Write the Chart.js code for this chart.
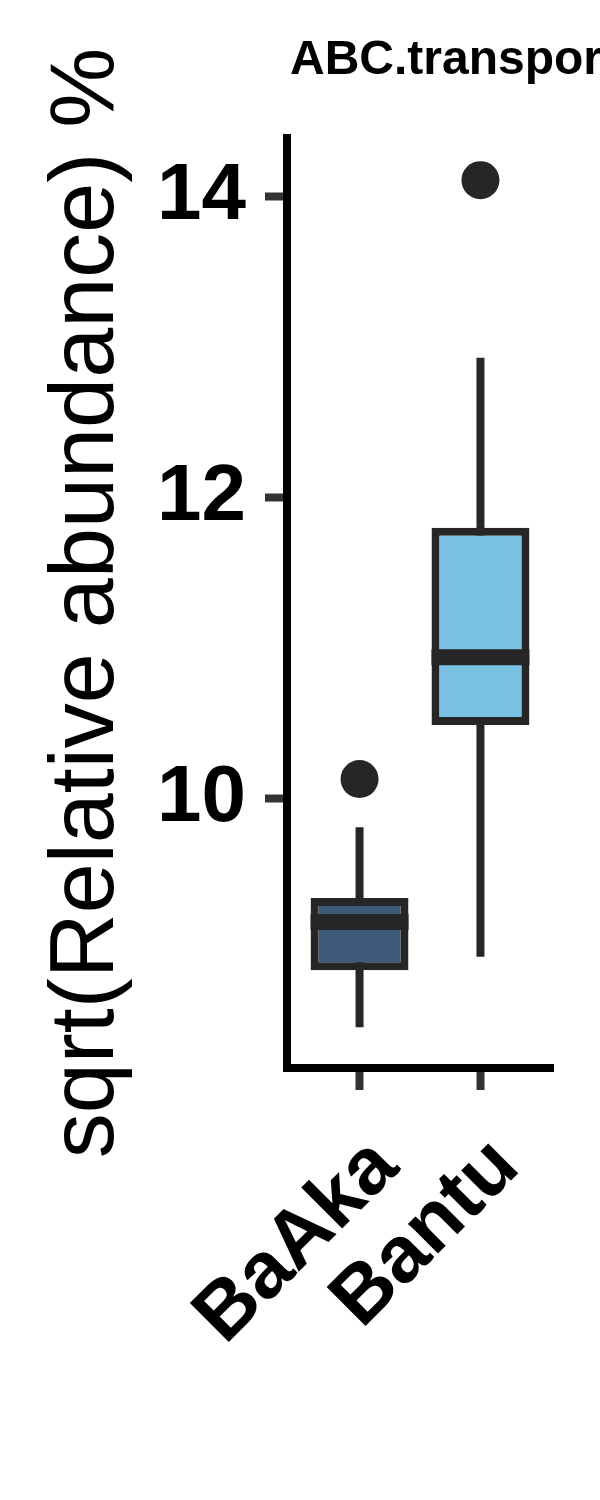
<!DOCTYPE html>
<html>
<head>
<meta charset="utf-8">
<script src="https://cdn.jsdelivr.net/npm/chart.js@4"></script>
<style>
  html, body { margin: 0; padding: 0; background: #fff; }
  #wrap { width: 600px; height: 1500px; }
</style>
</head>
<body>
<div id="wrap"><canvas id="chart"></canvas></div>
<script>
// Box plot: ABC.transporters, BaAka vs Bantu

const groups = ['BaAka', 'Bantu'];
const positions = [1, 2];
const lowerWhisker = [8.48, 8.95];
const q1 = [8.86, 10.49];
const median = [9.18, 10.94];
const q3 = [9.34, 11.80];
const upperWhisker = [9.81, 12.93];
const outliers = [[10.13], [14.11]];
const boxColors = ['#3d5b78', '#79c1e3'];
const yTicks = [10, 12, 14];

const panelTitle = 'ABC.transporters';
const yTitle = 'sqrt(Relative abundance) %';

const ink = '#262626';

// whiskers behind the boxes, thick median on top
const boxParts = {
  id: 'boxParts',
  beforeDatasetsDraw(chart) {
    const { ctx, scales: { x, y } } = chart;
    ctx.save();
    ctx.strokeStyle = ink;
    ctx.lineWidth = 8;
    positions.forEach((p, i) => {
      const px = x.getPixelForValue(p);
      ctx.beginPath();
      ctx.moveTo(px, y.getPixelForValue(lowerWhisker[i]));
      ctx.lineTo(px, y.getPixelForValue(upperWhisker[i]));
      ctx.stroke();
    });
    ctx.restore();
  },
  afterDatasetsDraw(chart) {
    const { ctx, scales: { y } } = chart;
    const bars = chart.getDatasetMeta(0).data;
    ctx.save();
    ctx.strokeStyle = ink;
    ctx.lineWidth = 16;
    bars.forEach((bar, i) => {
      const py = y.getPixelForValue(median[i]);
      ctx.beginPath();
      ctx.moveTo(bar.x - bar.width / 2, py);
      ctx.lineTo(bar.x + bar.width / 2, py);
      ctx.stroke();
    });
    // panel title, cut off by the right edge like the original
    ctx.fillStyle = '#000';
    ctx.font = 'bold 48px "Liberation Sans", Arial, sans-serif';
    ctx.textBaseline = 'alphabetic';
    ctx.fillText(panelTitle, 290, 74);
    ctx.restore();
  }
};

new Chart(document.getElementById('chart'), {
  type: 'bar',
  data: {
    datasets: [
      {
        type: 'bar',
        data: positions.map((p, i) => ({ x: p, y: [q1[i], q3[i]] })),
        backgroundColor: boxColors,
        borderColor: ink,
        borderWidth: 8,
        borderSkipped: false,
        barPercentage: 0.81,
        categoryPercentage: 1,
        order: 1
      },
      {
        type: 'scatter',
        data: positions.flatMap((p, i) => outliers[i].map(v => ({ x: p, y: v }))),
        pointRadius: 19,
        pointBackgroundColor: ink,
        pointBorderWidth: 0,
        order: 0
      }
    ]
  },
  options: {
    responsive: true,
    maintainAspectRatio: false,
    animation: false,
    layout: { padding: { top: 138, right: 47, bottom: 0, left: 0 } },
    plugins: {
      legend: { display: false },
      tooltip: { enabled: false }
    },
    scales: {
      x: {
        type: 'linear',
        min: 0.4,
        max: 2.6,
        offset: false,
        afterBuildTicks: s => { s.ticks = positions.map(v => ({ value: v })); },
        afterFit: s => { s.height = 432; },
        border: { display: true, color: '#000', width: 8 },
        grid: { offset: false, drawOnChartArea: false, drawTicks: true, tickLength: 22, tickWidth: 8, tickColor: '#333' },
        ticks: {
          autoSkip: false,
          minRotation: 45,
          maxRotation: 45,
          padding: 30,
          labelOffset: 26,
          color: '#000',
          font: { family: '"Liberation Sans", Arial, sans-serif', size: 80, weight: 'bold' },
          callback: v => groups[positions.indexOf(v)]
        }
      },
      y: {
        min: 8.21,
        max: 14.39,
        afterBuildTicks: s => { s.ticks = yTicks.map(v => ({ value: v })); },
        afterFit: s => { s.width = 287; },
        border: { display: true, color: '#000', width: 8 },
        grid: { drawOnChartArea: false, drawTicks: true, tickLength: 22, tickWidth: 8, tickColor: '#333' },
        ticks: {
          padding: 19,
          color: '#000',
          font: { family: '"Liberation Sans", Arial, sans-serif', size: 80, weight: 'bold' }
        },
        title: {
          display: true,
          text: yTitle,
          color: '#000',
          padding: { top: 34, bottom: 0 },
          font: { family: '"Liberation Sans", Arial, sans-serif', size: 90, weight: 'normal' }
        }
      }
    }
  },
  plugins: [boxParts]
});
</script>
</body>
</html>
